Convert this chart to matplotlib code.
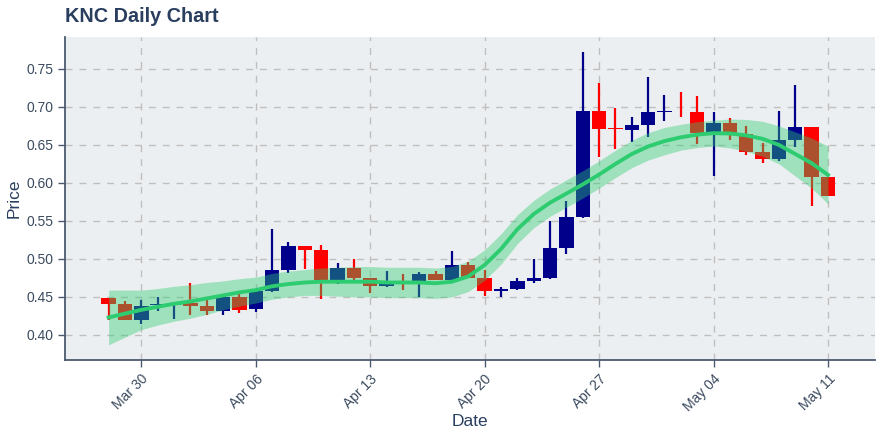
import matplotlib
matplotlib.use("Agg")
import matplotlib.pyplot as plt
import matplotlib.dates as mdates
import numpy as np
import pandas as pd

plt.rcParams['font.family'] = ['Liberation Sans', 'DejaVu Sans']

dates = pd.date_range("2020-03-28", "2020-05-11", freq="D")
opens = [0.449, 0.441, 0.420, 0.440, 0.439, 0.442, 0.438, 0.432, 0.450, 0.4338,
         0.458, 0.486, 0.517, 0.512, 0.4724, 0.4886, 0.475, 0.465, 0.470, 0.4667,
         0.480, 0.4724, 0.492, 0.475, 0.4583, 0.461, 0.4715, 0.475, 0.5148, 0.5557,
         0.6947, 0.6712, 0.6697, 0.6763, 0.6934, 0.6947, 0.6934, 0.6667, 0.6793, 0.6645,
         0.6408, 0.632, 0.6566, 0.6737, 0.6079]
highs = [0.449, 0.444, 0.446, 0.4496, 0.442, 0.468, 0.4504, 0.450, 0.457, 0.458,
         0.5395, 0.5224, 0.517, 0.518, 0.495, 0.4996, 0.475, 0.484, 0.480, 0.483,
         0.484, 0.510, 0.496, 0.485, 0.4628, 0.475, 0.5004, 0.550, 0.5763, 0.7724,
         0.732, 0.6983, 0.687, 0.739, 0.7158, 0.719, 0.7145, 0.6938, 0.685, 0.675,
         0.653, 0.6947, 0.729, 0.6737, 0.6079]
lows = [0.419, 0.420, 0.4145, 0.432, 0.421, 0.4267, 0.4267, 0.426, 0.4286, 0.4307,
        0.457, 0.481, 0.4864, 0.447, 0.4667, 0.4724, 0.4557, 0.4636, 0.459, 0.4496,
        0.4724, 0.4724, 0.475, 0.4513, 0.4504, 0.459, 0.468, 0.474, 0.507, 0.5543,
        0.6338, 0.6451, 0.6536, 0.660, 0.6816, 0.6865, 0.6513, 0.609, 0.6566, 0.6368,
        0.626, 0.6286, 0.647, 0.5697, 0.5829]
closes = [0.441, 0.420, 0.438, 0.441, 0.442, 0.4386, 0.432, 0.450, 0.4333, 0.458,
          0.485, 0.517, 0.512, 0.4724, 0.4886, 0.4754, 0.465, 0.470, 0.4667, 0.480,
          0.4724, 0.492, 0.475, 0.4583, 0.460, 0.4715, 0.4754, 0.5145, 0.5553, 0.6947,
          0.6714, 0.6707, 0.6763, 0.6934, 0.6945, 0.6940, 0.6662, 0.6793, 0.6662, 0.6412,
          0.632, 0.6566, 0.6737, 0.6079, 0.5829]
trend = [0.423, 0.428, 0.433, 0.437, 0.441, 0.444, 0.448, 0.452, 0.456, 0.459,
         0.464, 0.467, 0.469, 0.470, 0.470, 0.470, 0.470, 0.469, 0.469, 0.469,
         0.468, 0.470, 0.477, 0.492, 0.513, 0.539, 0.559, 0.574, 0.586, 0.598,
         0.611, 0.625, 0.638, 0.648, 0.655, 0.660, 0.6635, 0.6654, 0.665, 0.6625,
         0.658, 0.650, 0.638, 0.626, 0.6105]
band_half = [0.036, 0.031, 0.026, 0.024, 0.023, 0.022, 0.021, 0.019, 0.018, 0.017,
             0.017, 0.017, 0.017, 0.018, 0.019, 0.020, 0.020, 0.020, 0.020, 0.020,
             0.020, 0.020, 0.020, 0.020, 0.020, 0.019, 0.018, 0.018, 0.018, 0.018,
             0.018, 0.018, 0.018, 0.018, 0.018, 0.017, 0.017, 0.017, 0.019, 0.021,
             0.023, 0.025, 0.029, 0.033, 0.038]
yticks = [0.40, 0.45, 0.50, 0.55, 0.60, 0.65, 0.70, 0.75]
xtick_dates = pd.date_range("2020-03-30", "2020-05-11", freq="7D")

UP = "#00008b"
DOWN = "#ff0000"
GREEN = "#2ecc71"
TXT = "#2a3f5f"

fig = plt.figure(figsize=(8.8, 4.4), dpi=100)
ax = fig.add_axes([0.0739, 0.1818, 0.9204, 0.7342])
ax.set_facecolor("#eceff1")

x = mdates.date2num(dates)
o = np.array(opens); c = np.array(closes); h = np.array(highs); l = np.array(lows)
colors = [UP if cc >= oo else DOWN for oo, cc in zip(o, c)]
width = 0.88
ax.vlines(x, l, h, colors=colors, linewidth=1.6, zorder=2)
bottoms = np.minimum(o, c)
heights = np.maximum(np.abs(c - o), 0.0012)
ax.bar(x, heights, width=width, bottom=bottoms, color=colors, linewidth=0, zorder=3)

tr = np.array(trend); hw = np.array(band_half)
ax.fill_between(x, tr - hw, tr + hw, color=GREEN, alpha=0.4, linewidth=0, zorder=4)
ax.plot(x, tr, color=GREEN, linewidth=2.8, zorder=5)

ax.set_ylim(0.367, 0.792)
ax.set_xlim(mdates.date2num(pd.Timestamp("2020-03-25 08:00")), mdates.date2num(pd.Timestamp("2020-05-13 21:00")))
ax.set_yticks(yticks)
ax.yaxis.set_major_formatter(matplotlib.ticker.FormatStrFormatter('%.2f'))
ax.set_xticks(mdates.date2num(xtick_dates))
ax.xaxis.set_major_formatter(mdates.DateFormatter('%b %d'))
plt.setp(ax.get_xticklabels(), rotation=45, ha='right', rotation_mode='anchor')

ax.grid(True, color="#bfbfbf", linestyle=(0, (5, 5)), linewidth=1.0, zorder=0)
ax.set_axisbelow(True)
for s in ['top', 'right']:
    ax.spines[s].set_visible(False)
for s in ['left', 'bottom']:
    ax.spines[s].set_color("#4b5a6e")
    ax.spines[s].set_linewidth(1.3)
ax.tick_params(colors="#4b5a6e", labelcolor="#3b4a5e", labelsize=10, length=5, width=1)

ax.set_xlabel("Date", fontsize=12.5, color=TXT, labelpad=0)
ax.set_ylabel("Price", fontsize=12.5, color=TXT, labelpad=3)
fig.text(0.0739, 0.963, "KNC Daily Chart", fontsize=14.3, fontweight='bold', color=TXT,
         ha='left', va='center')

fig.savefig("out.png", dpi=100)
